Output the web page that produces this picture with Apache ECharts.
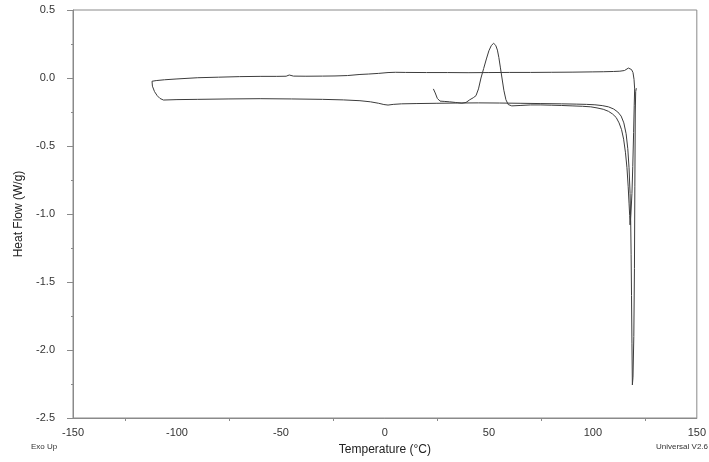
<!DOCTYPE html>
<html>
<head>
<meta charset="utf-8">
<script src="https://cdn.jsdelivr.net/npm/echarts@6/dist/echarts.min.js"></script>
<style>html,body{margin:0;padding:0;background:#fff}#c{width:709px;height:462px}</style>
</head>
<body>
<div id="c"></div>
<script>
// First heat (from room temperature)
var heat1T  = [23.3, 24.2, 25.2, 26.5, 28.5, 31, 34, 37, 39, 40.8, 42.5, 43.8, 45, 46.2, 47.5, 48.8, 50, 51.2, 52.3, 53.3, 54.1, 54.8, 55.5, 56.3, 57.2, 58.2, 59.3, 61, 65, 70, 75, 80, 85, 90, 95, 99, 102, 105, 107.5, 109.5, 111.2, 112.6, 113.8, 114.8, 115.7, 116.4, 117, 117.4, 117.7, 117.9, 118.3, 118.8, 119.2, 119.6, 119.9, 120.1];
var heat1HF = [-0.08, -0.11, -0.15, -0.17, -0.172, -0.175, -0.18, -0.185, -0.18, -0.16, -0.145, -0.13, -0.08, 0.0, 0.07, 0.14, 0.2, 0.24, 0.255, 0.24, 0.205, 0.15, 0.08, 0.0, -0.09, -0.16, -0.195, -0.205, -0.202, -0.198, -0.198, -0.2, -0.202, -0.205, -0.208, -0.212, -0.22, -0.23, -0.245, -0.265, -0.29, -0.33, -0.38, -0.45, -0.55, -0.66, -0.8, -0.92, -1.01, -1.08, -1.0, -0.85, -0.65, -0.4, -0.2, -0.08];
// Cooling
var coolT  = [120.1, 119.8, 119.3, 118.6, 117.8, 117.1, 116.3, 115.2, 113, 110, 105, 100, 90, 80, 70, 60, 50, 40, 30, 20, 10, 5, 1.5, -3, -8, -12, -18, -24, -30, -38, -44, -46, -47.5, -52, -60, -70, -80, -90, -100, -106, -110, -112];
var coolHF = [-0.08, -0.01, 0.04, 0.062, 0.072, 0.073, 0.065, 0.055, 0.05, 0.048, 0.046, 0.045, 0.043, 0.042, 0.041, 0.041, 0.04, 0.039, 0.04, 0.04, 0.041, 0.042, 0.04, 0.034, 0.029, 0.026, 0.018, 0.015, 0.014, 0.013, 0.014, 0.022, 0.013, 0.012, 0.012, 0.01, 0.006, 0.002, -0.007, -0.013, -0.019, -0.024];
// Second heat
var heat2T  = [-112, -112.3, -111.8, -110.8, -109.5, -108.2, -106.5, -100, -90, -75, -60, -45, -30, -20, -12, -7, -3, -0.5, 1.5, 4, 8, 15, 25, 35, 45, 55, 65, 75, 85, 92, 97, 101, 104.5, 107.5, 110, 112, 113.6, 114.9, 116, 116.8, 117.4, 117.9, 118.2, 118.4, 118.6, 118.8, 119.0, 119.3, 119.7, 120.0, 120.2, 120.4, 120.6, 120.9];
var heat2HF = [-0.024, -0.035, -0.06, -0.1, -0.13, -0.15, -0.162, -0.159, -0.157, -0.154, -0.152, -0.154, -0.157, -0.161, -0.167, -0.175, -0.186, -0.195, -0.199, -0.194, -0.19, -0.188, -0.186, -0.184, -0.183, -0.184, -0.186, -0.188, -0.19, -0.192, -0.194, -0.197, -0.203, -0.212, -0.228, -0.25, -0.28, -0.33, -0.41, -0.52, -0.66, -0.85, -1.05, -1.3, -1.6, -1.95, -2.257, -2.2, -1.9, -1.4, -0.8, -0.25, -0.1, -0.075];

var xTicks = [-150, -100, -50, 0, 50, 100, 150];
var yTicks = [-2.5, -2.0, -1.5, -1.0, -0.5, 0.0, 0.5];

function pairs(t, h) { return t.map(function (v, i) { return [v, h[i]]; }); }

var FONT = '"Liberation Sans", Arial, sans-serif';
var AX = '#8a8a8a';
var LINE = '#3c3c3c';

var chart = echarts.init(document.getElementById('c'), null, {renderer: 'canvas'});
var lineSeries = function (name, data) {
  return {
    name: name, type: 'line', data: data, showSymbol: false, symbol: 'none',
    lineStyle: {color: LINE, width: 1}, animation: false, silent: true, clip: false
  };
};
chart.setOption({
  animation: false,
  grid: {left: 73, right: 8, top: 10, bottom: 44, show: true, borderColor: AX, borderWidth: 1},
  xAxis: {
    type: 'value', min: xTicks[0], max: xTicks[xTicks.length - 1], interval: 50,
    name: 'Temperature (°C)', nameLocation: 'middle', nameGap: 26,
    nameTextStyle: {fontFamily: FONT, fontSize: 12, color: '#222'},
    axisLine: {show: true, onZero: false, lineStyle: {color: AX, width: 1}},
    axisTick: {show: false},
    minorTick: {show: true, splitNumber: 2, length: 3, lineStyle: {color: AX}},
    splitLine: {show: false},
    axisLabel: {fontFamily: FONT, fontSize: 11, color: '#333', margin: 9, showMinLabel: true, showMaxLabel: true}
  },
  yAxis: {
    type: 'value', min: yTicks[0], max: yTicks[yTicks.length - 1], interval: 0.5,
    name: 'Heat Flow (W/g)', nameLocation: 'middle', nameGap: 48,
    nameTextStyle: {fontFamily: FONT, fontSize: 12, color: '#222'},
    axisLine: {show: true, onZero: false, lineStyle: {color: AX, width: 1}},
    axisTick: {show: true, length: 6, lineStyle: {color: AX}},
    minorTick: {show: true, splitNumber: 2, length: 2, lineStyle: {color: AX}},
    splitLine: {show: false},
    axisLabel: {fontFamily: FONT, fontSize: 11, color: '#333', margin: 18,
      formatter: function (v) { return v.toFixed(1); }}
  },
  graphic: [
    {type: 'text', left: 31, top: 443, style: {text: 'Exo Up', font: '8px ' + FONT, fill: '#333'}},
    {type: 'text', right: 1, top: 443, style: {text: 'Universal V2.6', font: '8px ' + FONT, fill: '#333'}}
  ],
  series: [
    lineSeries('First heat', pairs(heat1T, heat1HF)),
    lineSeries('Cooling', pairs(coolT, coolHF)),
    lineSeries('Second heat', pairs(heat2T, heat2HF))
  ]
});
</script>
</body>
</html>
